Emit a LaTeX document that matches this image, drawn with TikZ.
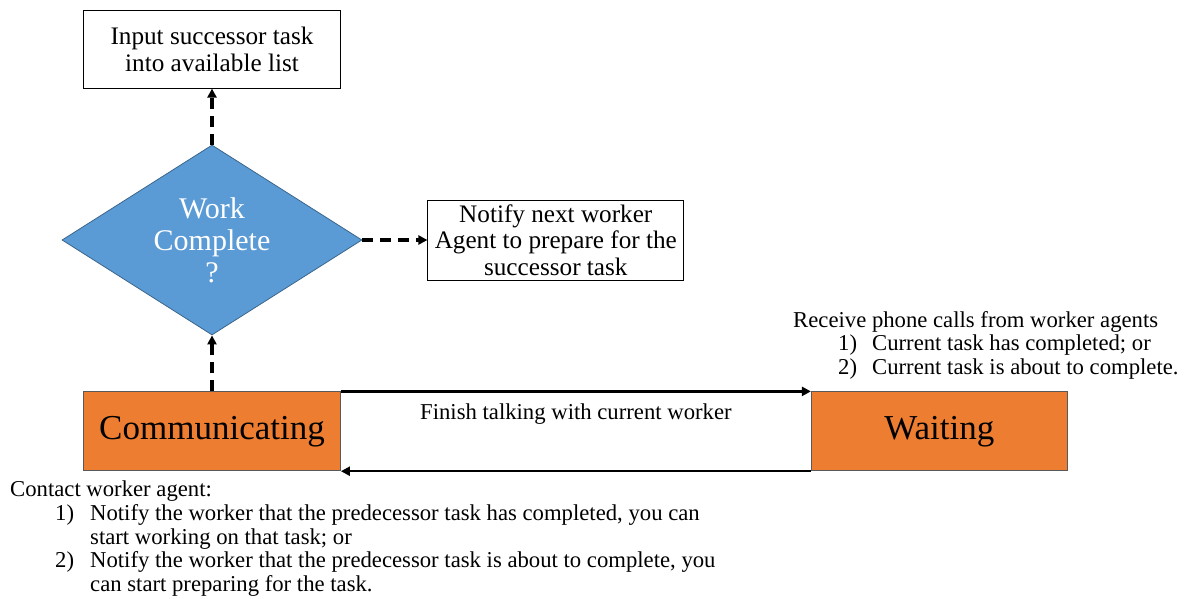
\documentclass[tikz,border=0pt]{standalone}
\usepackage{fontspec}
\setmainfont{Liberation Serif}
\usepackage{xcolor}
\usetikzlibrary{arrows.meta,positioning,shapes.geometric}

\definecolor{decblue}{RGB}{91,155,213}
\definecolor{stateorange}{RGB}{237,125,49}

\begin{document}
\begin{tikzpicture}[
    x=1pt, y=-1pt,
    >={Triangle[length=9pt,width=9pt]},
    txt/.style={inner sep=0pt, align=left, font=\fontsize{22.7}{23.6}\selectfont},
    box/.style={draw, line width=0.8pt, align=center, inner sep=0pt, minimum height=79pt, font=\fontsize{25.2}{26.5}\selectfont},
    state/.style={draw=black!65, line width=0.8pt, fill=stateorange, inner sep=0pt, minimum width=257pt, minimum height=79pt, font=\fontsize{35}{40}\selectfont},
    dec/.style={diamond, shape aspect=1.58, draw=decblue!65!black, line width=0.8pt, fill=decblue, text=white, align=center, inner sep=0pt, minimum width=300pt, minimum height=190pt, font=\fontsize{30}{32}\selectfont},
    dasharr/.style={->, line width=3.5pt, dash pattern=on 11pt off 7pt},
    arr/.style={->, line width=2.5pt}
  ]
    \useasboundingbox (0,0) rectangle (1185,599);

    \node[dec] (done) at (212,240) {Work\\Complete\\?};
    \node[box, minimum width=257pt, minimum height=78pt, above=56pt of done] (input) {Input successor task\\into available list};
    \node[box, minimum width=256pt, minimum height=80pt, right=65pt of done] (notify) {Notify next worker\\Agent to prepare for the\\successor task};

    \node[state, below=56pt of done] (comm) {Communicating};
    \node[state, minimum width=256pt, right=470pt of comm] (wait) {Waiting};

    % decision arrows
    \draw[dasharr] (comm.north) -- (done.south);
    \draw[dasharr] (done.north) -- (input.south);
    \draw[dasharr] (done.east) -- (notify.west);

    % talking loop
    \draw[arr] (comm.north east) -- node[txt, below=11pt, align=center] (finish) {Finish talking with current worker} (wait.north west);
    \draw[arr] (wait.south west) -- (comm.south east);

    % notes
    \node[txt, anchor=north west] (recv) at (793,311) {Receive phone calls from worker agents\\
      \hspace*{45pt}\makebox[34pt][l]{1)}Current task has completed; or\\
      \hspace*{45pt}\makebox[34pt][l]{2)}Current task is about to complete.};
    \node[txt, anchor=north west] (contact) at (10,481) {Contact worker agent:\\
      \hspace*{45pt}\makebox[35pt][l]{1)}Notify the worker that the predecessor task has completed, you can\\
      \hspace*{80pt}start working on that task; or\\
      \hspace*{45pt}\makebox[35pt][l]{2)}Notify the worker that the predecessor task is about to complete, you\\
      \hspace*{80pt}can start preparing for the task.};
\end{tikzpicture}
\end{document}
